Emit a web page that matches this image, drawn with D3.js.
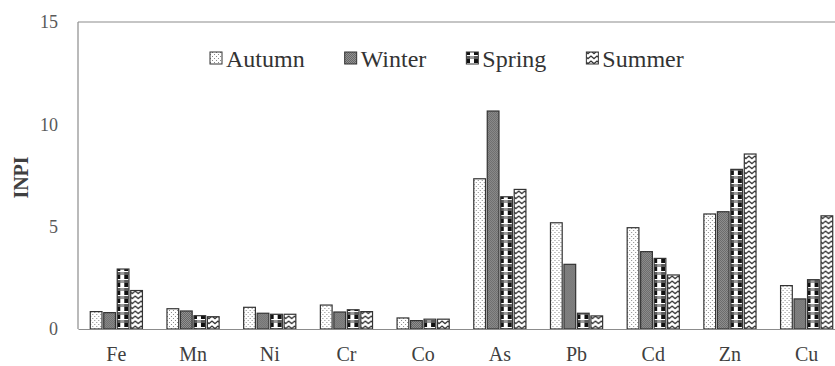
<!DOCTYPE html>
<html>
<head>
<meta charset="utf-8">
<script src="https://cdn.jsdelivr.net/npm/d3@7/dist/d3.min.js"></script>
<style>
  html, body { margin: 0; padding: 0; background: #fff; }
  svg { display: block; }
</style>
</head>
<body>
<svg id="chart" width="835" height="366"></svg>
<script>
// Metals on the x axis
const elements = ["Fe", "Mn", "Ni", "Cr", "Co", "As", "Pb", "Cd", "Zn", "Cu"];
// Seasons (one bar per season in each group)
const seasons = ["Autumn", "Winter", "Spring", "Summer"];
// INPI values per season, in element order
const autumn = [0.85, 0.99, 1.06, 1.17, 0.54, 7.34, 5.19, 4.95, 5.62, 2.12];
const winter = [0.80, 0.88, 0.77, 0.83, 0.41, 10.65, 3.16, 3.78, 5.73, 1.47];
const spring = [2.93, 0.65, 0.72, 0.94, 0.48, 6.46, 0.77, 3.45, 7.80, 2.41];
const summer = [1.88, 0.60, 0.72, 0.85, 0.48, 6.82, 0.64, 2.64, 8.55, 5.53];
const yTicks = [0, 5, 10, 15];

const seriesValues = { Autumn: autumn, Winter: winter, Spring: spring, Summer: summer };

const serif = '"Liberation Serif", "Times New Roman", Tinos, "Noto Serif", "DejaVu Serif", FreeSerif, "Nimbus Roman", Georgia, serif';

const svg = d3.select("#chart").attr("font-family", serif);
const margin = { left: 78, top: 22, bottom: 329 };
const plotRight = 845; // plot runs slightly past the right edge

const x = d3.scaleBand().domain(elements).range([margin.left, plotRight]).paddingInner(0.32).paddingOuter(0.16);
const xs = d3.scaleBand().domain(seasons).range([0, x.bandwidth()]).paddingInner(0.13);
const y = d3.scaleLinear().domain([0, 15]).range([margin.bottom, margin.top]);

// ---- fill patterns ----
const defs = svg.append("defs");

// Autumn: fine grey dots on white
const pA = defs.append("pattern").attr("id", "pat-Autumn").attr("patternUnits", "userSpaceOnUse")
  .attr("width", 4).attr("height", 4);
pA.append("rect").attr("width", 4).attr("height", 4).attr("fill", "#fff");
pA.append("rect").attr("x", 0).attr("y", 0).attr("width", 1).attr("height", 1).attr("fill", "#8a8a8a");
pA.append("rect").attr("x", 2).attr("y", 2).attr("width", 1).attr("height", 1).attr("fill", "#8a8a8a");

// Winter: dense grey mesh
const pW = defs.append("pattern").attr("id", "pat-Winter").attr("patternUnits", "userSpaceOnUse")
  .attr("width", 2).attr("height", 2);
pW.append("rect").attr("width", 2).attr("height", 2).attr("fill", "#939393");
pW.append("rect").attr("x", 0).attr("y", 0).attr("width", 1).attr("height", 1).attr("fill", "#666");
pW.append("rect").attr("x", 1).attr("y", 1).attr("width", 1).attr("height", 1).attr("fill", "#666");

// Spring: black blocks between grey bands (large checker)
const pS = defs.append("pattern").attr("id", "pat-Spring").attr("patternUnits", "userSpaceOnUse")
  .attr("width", 8).attr("height", 8);
pS.append("rect").attr("width", 8).attr("height", 8).attr("fill", "#fff");
pS.append("rect").attr("x", 0).attr("y", 0).attr("width", 8).attr("height", 3).attr("fill", "#9a9a9a");
pS.append("rect").attr("x", 2).attr("y", 0).attr("width", 4).attr("height", 3).attr("fill", "#5a5a5a");
pS.append("rect").attr("x", 2).attr("y", 3).attr("width", 4).attr("height", 4).attr("fill", "#111");

// Summer: stacked chevrons
const pU = defs.append("pattern").attr("id", "pat-Summer").attr("patternUnits", "userSpaceOnUse")
  .attr("width", 6).attr("height", 5);
pU.append("rect").attr("width", 6).attr("height", 5).attr("fill", "#fff");
pU.append("path").attr("d", "M-1,4.5 L3,1 L7,4.5").attr("fill", "none").attr("stroke", "#333").attr("stroke-width", 1.3);

// ---- frame ----
svg.append("line").attr("x1", margin.left).attr("x2", 835).attr("y1", margin.top).attr("y2", margin.top)
  .attr("stroke", "#8c8c8c").attr("stroke-width", 1.2);
svg.append("line").attr("x1", margin.left).attr("x2", margin.left).attr("y1", margin.top).attr("y2", margin.bottom)
  .attr("stroke", "#8c8c8c").attr("stroke-width", 1.2);

// ---- bars ----
const groups = svg.append("g").selectAll("g").data(elements).join("g")
  .attr("transform", d => `translate(${x(d)},0)`);

groups.selectAll("rect")
  .data((el, i) => seasons.map(s => ({ season: s, value: seriesValues[s][i] })))
  .join("rect")
  .attr("x", d => xs(d.season))
  .attr("width", xs.bandwidth())
  .attr("y", d => y(d.value))
  .attr("height", d => y(0) - y(d.value))
  .attr("fill", d => `url(#pat-${d.season})`)
  .attr("stroke", "#333")
  .attr("stroke-width", 1.2);

// ---- x axis ----
const xAxis = svg.append("g").attr("transform", `translate(0,${margin.bottom})`)
  .call(d3.axisBottom(x).tickSize(0).tickPadding(18))
  .attr("font-family", serif);
xAxis.select(".domain").attr("stroke", "#8c8c8c").attr("stroke-width", 1.2);
xAxis.selectAll("text").attr("font-size", 20).attr("fill", "#404040");

// ---- y axis ----
const yAxis = svg.append("g").attr("transform", `translate(${margin.left},0)`)
  .call(d3.axisLeft(y).tickValues(yTicks).tickSize(0).tickPadding(20))
  .attr("font-family", serif);
yAxis.select(".domain").remove();
yAxis.selectAll("text").attr("font-size", 18).attr("fill", "#595959");

svg.append("text")
  .attr("transform", `translate(28,${(margin.top + margin.bottom) / 2 + 2}) rotate(-90)`)
  .attr("text-anchor", "middle")
  .attr("font-size", 20).attr("font-weight", "bold").attr("fill", "#404040")
  .text("INPI");

// ---- legend ----
const legend = svg.append("g");
let lx = 210;
seasons.forEach(s => {
  legend.append("rect").attr("x", lx).attr("y", 52).attr("width", 12).attr("height", 12)
    .attr("fill", `url(#pat-${s})`).attr("stroke", "#333").attr("stroke-width", 1);
  const t = legend.append("text").attr("x", lx + 16).attr("y", 67)
    .attr("font-size", 24).attr("fill", "#333").text(s);
  lx += 16 + t.node().getComputedTextLength() + 40;
});
</script>
</body>
</html>
